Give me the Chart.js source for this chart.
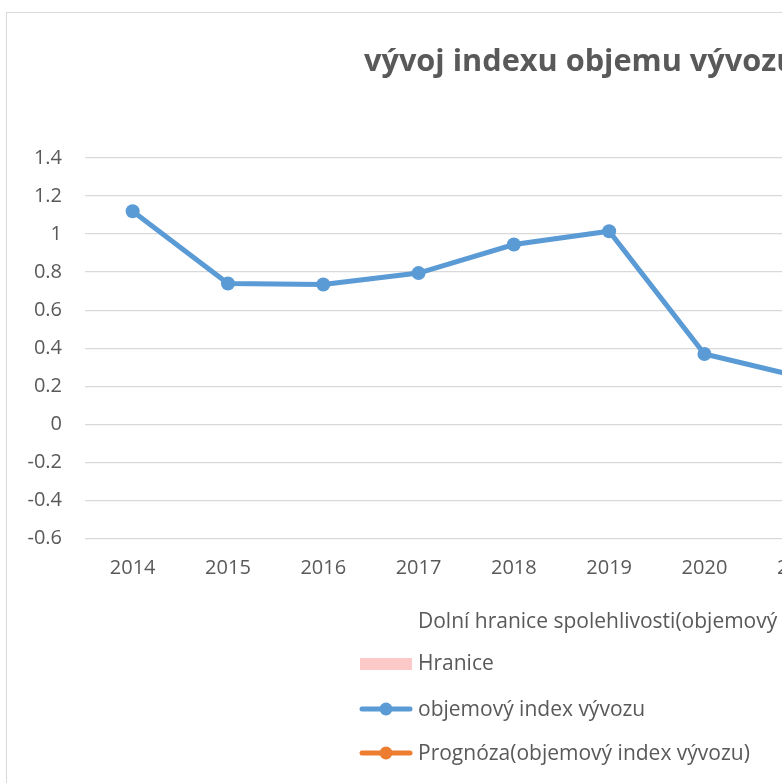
<!DOCTYPE html>
<html>
<head>
<meta charset="utf-8">
<script src="https://cdn.jsdelivr.net/npm/chart.js@4/dist/chart.umd.min.js"></script>
<style>
  html, body { margin: 0; padding: 0; background: #fff; overflow: hidden; }
  #box { position: absolute; left: 6px; top: 12px; width: 1150px; height: 800px; border: 1px solid #d9d9d9; background: #fff; }
  canvas { display: block; }
</style>
</head>
<body>
<div id="box"><canvas id="myChart" width="1150" height="800"></canvas></div>
<script>
// data (years after 2021 are outside the visible crop)
const years = ['2014', '2015', '2016', '2017', '2018', '2019', '2020', '2021', '2022', '2023', '2024'];
const objemovyIndex = [1.12, 0.74, 0.735, 0.795, 0.945, 1.015, 0.37, 0.25, null, null, null];
const prognoza = [null, null, null, null, null, null, null, 0.25, null, null, null];
const dolniHranice = [null, null, null, null, null, null, null, null, null, null, null];
const hranice = [null, null, null, null, null, null, null, null, null, null, null];
const yTicks = [-0.6, -0.4, -0.2, 0, 0.2, 0.4, 0.6, 0.8, 1, 1.2, 1.4];

const legendItems = [
  {text: 'Dolní hranice spolehlivosti(objemový index vývozu)', kind: 'none'},
  {text: 'Hranice', kind: 'box', color: '#fcc8c8'},
  {text: 'objemový index vývozu', kind: 'line', color: '#5b9bd5'},
  {text: 'Prognóza(objemový index vývozu)', kind: 'line', color: '#ed7d31'}
];

const textColor = '#595959';
const font = '"Open Sans", sans-serif';
const fontSize = 20;

// Excel style legend: one entry per row, left aligned
const excelLegend = {
  id: 'excelLegend',
  afterDraw(chart) {
    const ctx = chart.ctx;
    const left = 353, textX = 411, rowY = [608, 650, 696, 740];
    ctx.save();
    ctx.font = '21px ' + font;
    ctx.textBaseline = 'middle';
    ctx.fillStyle = textColor;
    legendItems.forEach((it, i) => {
      const y = rowY[i];
      if (it.kind === 'box') {
        ctx.fillStyle = it.color;
        ctx.fillRect(left, y - 5, 52, 12);
      } else if (it.kind === 'line') {
        ctx.strokeStyle = it.color;
        ctx.lineWidth = 5;
        ctx.lineCap = 'round';
        ctx.beginPath();
        ctx.moveTo(left + 2, y);
        ctx.lineTo(left + 50, y);
        ctx.stroke();
        ctx.fillStyle = it.color;
        ctx.beginPath();
        ctx.arc(left + 26, y, 6.5, 0, Math.PI * 2);
        ctx.fill();
      }
      ctx.fillStyle = textColor;
      ctx.fillText(it.text, textX, y + 1);
    });
    ctx.restore();
  }
};

const ctx = document.getElementById('myChart').getContext('2d');
new Chart(ctx, {
  type: 'line',
  data: {
    labels: years,
    datasets: [
      {
        label: 'Dolní hranice spolehlivosti(objemový index vývozu)',
        data: dolniHranice,
        borderColor: 'rgba(0,0,0,0)',
        pointRadius: 0
      },
      {
        label: 'Hranice',
        data: hranice,
        borderColor: 'rgba(0,0,0,0)',
        backgroundColor: '#fcc8c8',
        fill: '-1',
        pointRadius: 0
      },
      {
        label: 'objemový index vývozu',
        data: objemovyIndex,
        borderColor: '#5b9bd5',
        backgroundColor: '#5b9bd5',
        borderWidth: 5,
        pointRadius: 7,
        pointBorderWidth: 0,
        tension: 0
      },
      {
        label: 'Prognóza(objemový index vývozu)',
        data: prognoza,
        borderColor: '#ed7d31',
        backgroundColor: '#ed7d31',
        borderWidth: 5,
        pointRadius: 7,
        pointBorderWidth: 0,
        tension: 0
      }
    ]
  },
  options: {
    responsive: false,
    animation: false,
    layout: { padding: { left: 20, right: 23.7, top: 0, bottom: 214.6 } },
    plugins: {
      legend: { display: false },
      tooltip: { enabled: false },
      title: {
        display: true,
        text: 'vývoj indexu objemu vývozu',
        color: textColor,
        font: { family: font, size: 30.7, weight: 'bold' },
        padding: { top: 30.6, bottom: 77.6 }
      }
    },
    scales: {
      x: {
        offset: true,
        grid: { display: false, drawTicks: false },
        border: { display: false },
        ticks: { color: textColor, font: { family: font, size: fontSize }, padding: 18, maxRotation: 0 }
      },
      y: {
        min: -0.6,
        max: 1.4,
        afterBuildTicks(scale) { scale.ticks = yTicks.map(v => ({value: v})); },
        afterFit(scale) { scale.width = 58; },
        grid: { color: '#d9d9d9', lineWidth: 1.3, drawTicks: false },
        border: { display: false },
        ticks: {
          color: textColor,
          font: { family: font, size: fontSize },
          padding: 23,
          callback: v => String(Math.round(v * 10) / 10)
        }
      }
    }
  },
  plugins: [excelLegend]
});
</script>
</body>
</html>
